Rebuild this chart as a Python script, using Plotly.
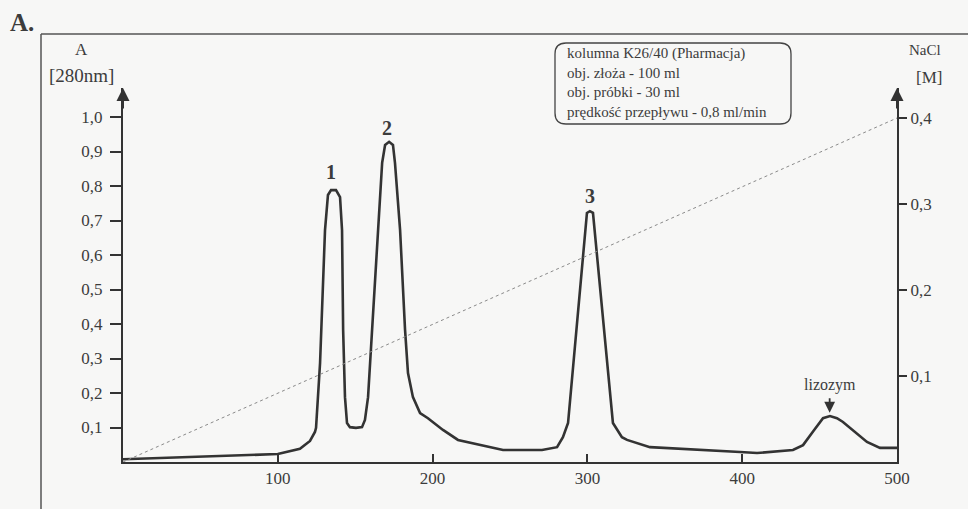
import plotly.graph_objects as go

# ---- data ----
volume_ml = [0, 50, 100, 114.3, 120.8, 124.0, 124.7, 127.3, 130.5, 132.4, 134.4, 137.6, 140.2, 141.5,
             142.2, 143.4, 144.7, 146.6, 150.5, 154.4, 156.3, 158.3, 160.9, 164.8, 167.4, 169.3,
             171.9, 174.4, 175.7, 179.0, 182.2, 184.1, 187.3, 191.9, 197.0, 206.7, 216.4, 245.5,
             270.7, 280.4, 284.2, 287.5, 299.7, 301.6, 303.6, 316.5, 322.3, 325.6, 340.4, 398.6,
             409.6, 432.8, 439.3, 446.0, 452.2, 456.7, 461.2, 465.1, 480.6, 489.0, 500.0]
absorbance = [0.008, 0.015, 0.023, 0.038, 0.061, 0.087, 0.099, 0.287, 0.672, 0.774, 0.788, 0.788, 0.768, 0.672,
              0.383, 0.188, 0.113, 0.101, 0.099, 0.101, 0.122, 0.188, 0.383, 0.672, 0.867, 0.919,
              0.928, 0.919, 0.867, 0.672, 0.383, 0.258, 0.188, 0.142, 0.127, 0.093, 0.064, 0.035,
              0.035, 0.043, 0.072, 0.113, 0.722, 0.727, 0.722, 0.113, 0.072, 0.064, 0.043, 0.029,
              0.026, 0.035, 0.049, 0.090, 0.127, 0.133, 0.127, 0.116, 0.058, 0.041, 0.041]
nacl_volume = [0, 500]
nacl_molar = [0.0, 0.4]

x_tickvals = [100, 200, 300, 400, 500]
x_ticktext = ["100", "200", "300", "400", "500"]
a_tickvals = [0.1, 0.2, 0.3, 0.4, 0.5, 0.6, 0.7, 0.8, 0.9, 1.0]
a_ticktext = ["0,1", "0,2", "0,3", "0,4", "0,5", "0,6", "0,7", "0,8", "0,9", "1,0"]
m_tickvals = [0.1, 0.2, 0.3, 0.4]
m_ticktext = ["0,1", "0,2", "0,3", "0,4"]

peak_labels = ["1", "2", "3"]
peak_x = [134.4, 170.5, 301.6]
peak_y = [0.84, 0.968, 0.77]

info_lines = ["kolumna K26/40 (Pharmacja)", "obj. złoża - 100 ml",
              "obj. próbki - 30 ml", "prędkość przepływu - 0,8 ml/min"]

# ---- layout geometry ----
W, H = 968, 509
L, R, T, B = 123, 71, 88, 47
PW, PH = W - L - R, H - T - B
FONT = "Liberation Serif, Times New Roman, serif"
INK = "#333333"
TXT = "#3c3c3c"


def px(xp, yp):
    return ((xp - L) / PW, (H - B - yp) / PH)


fig = go.Figure()
fig.add_trace(go.Scatter(x=nacl_volume, y=nacl_molar, mode="lines", yaxis="y2",
                         line=dict(color="#8a8a8a", width=1, dash="dot"), hoverinfo="skip"))
fig.add_trace(go.Scatter(x=volume_ml, y=absorbance, mode="lines",
                         line=dict(color=INK, width=2.6), hoverinfo="skip"))

shapes = []
# outer frame (left and top lines)
x0, y0 = px(41, 34)
_, y1 = px(41, 509)
x2, _ = px(968, 34)
shapes.append(dict(type="line", xref="paper", yref="paper", x0=x0, y0=y0, x1=x0, y1=y1,
                   line=dict(color="#555", width=1.5)))
shapes.append(dict(type="line", xref="paper", yref="paper", x0=x0, y0=y0, x1=x2, y1=y0,
                   line=dict(color="#555", width=1.5)))

# rounded info box
bx0, by0, bx1, by1, r = 555, 43, 791, 124, 11
def P(a, b):
    q = px(a, b)
    return f"{q[0]:.5f},{q[1]:.5f}"
path = (f"M {P(bx0 + r, by0)} L {P(bx1 - r, by0)} Q {P(bx1, by0)} {P(bx1, by0 + r)} "
        f"L {P(bx1, by1 - r)} Q {P(bx1, by1)} {P(bx1 - r, by1)} "
        f"L {P(bx0 + r, by1)} Q {P(bx0, by1)} {P(bx0, by1 - r)} "
        f"L {P(bx0, by0 + r)} Q {P(bx0, by0)} {P(bx0 + r, by0)} Z")
shapes.append(dict(type="path", xref="paper", yref="paper", path=path,
                   line=dict(color="#444", width=1.3), fillcolor="rgba(0,0,0,0)"))

annotations = []
# axis arrows
for xa in (0, 1):
    annotations.append(dict(xref="paper", yref="paper", x=xa, y=1.0, ax=0, ay=22,
                            text="", showarrow=True, arrowhead=2, arrowsize=1.3,
                            arrowwidth=2, arrowcolor=INK))

def txt(t, xp, yp, size, bold=False, xanchor="center", align="center"):
    q = px(xp, yp)
    annotations.append(dict(xref="paper", yref="paper", x=q[0], y=q[1], text=(f"<b>{t}</b>" if bold else t),
                            showarrow=False, xanchor=xanchor, yanchor="middle", align=align,
                            font=dict(family=FONT, size=size, color=TXT)))

txt("A.", 8, 23, 25, bold=True, xanchor="left")
txt("A", 81, 49, 17)
txt("[280nm]", 81, 75, 19)
txt("NaCl", 925, 50, 15)
txt("[M]", 929, 77, 17)
txt("<br>".join(info_lines), 565, 83, 15, xanchor="left", align="left")

for lab, xv, yv in zip(peak_labels, peak_x, peak_y):
    annotations.append(dict(x=xv, y=yv, text=f"<b>{lab}</b>", showarrow=False,
                            font=dict(family=FONT, size=20, color=TXT)))

annotations.append(dict(x=456.5, y=0.143, ax=0, ay=-16, text="", showarrow=True,
                        arrowhead=2, arrowsize=1.2, arrowwidth=1.8, arrowcolor=INK))
annotations.append(dict(x=456.5, y=0.224, text="lizozym", showarrow=False,
                        font=dict(family=FONT, size=16, color=TXT)))

axis_font = dict(family=FONT, size=17, color=TXT)
fig.update_layout(
    width=W, height=H,
    margin=dict(l=L, r=R, t=T, b=B, pad=0),
    paper_bgcolor="#f7f7f6", plot_bgcolor="#f7f7f6",
    showlegend=False,
    shapes=shapes, annotations=annotations,
    xaxis=dict(range=[0, 500], tickvals=x_tickvals, ticktext=x_ticktext, ticks="inside",
               ticklen=8, tickwidth=2, tickcolor=INK, showline=True, linecolor=INK, linewidth=2,
               showgrid=False, zeroline=False, tickfont=axis_font),
    yaxis=dict(range=[0, PH / 345], tickvals=a_tickvals, ticktext=a_ticktext, ticks="outside",
               ticklen=11, tickwidth=2, tickcolor=INK, showline=True, linecolor=INK, linewidth=2,
               showgrid=False, zeroline=False, tickfont=axis_font, ticklabelstandoff=4),
    yaxis2=dict(range=[0, PH / 860], tickvals=m_tickvals, ticktext=m_ticktext, ticks="outside",
                ticklen=8, tickwidth=2, tickcolor=INK, showline=True, linecolor=INK, linewidth=2,
                showgrid=False, zeroline=False, tickfont=axis_font, overlaying="y", side="right"),
)

fig.write_html("out.html", config={"displayModeBar": False},
               post_script="document.body.style.margin='0px';")
